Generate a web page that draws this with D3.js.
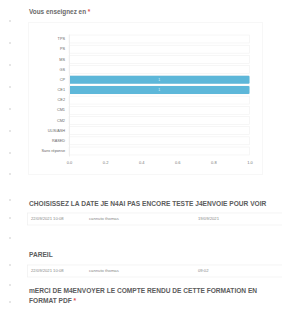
<!DOCTYPE html>
<html>
<head>
<meta charset="utf-8">
<script src="https://cdn.jsdelivr.net/npm/d3@7"></script>
<style>
	body { margin: 0; background: #fff; }
	svg { display: block; font-family: "Liberation Sans", Arial, sans-serif; }
</style>
</head>
<body>
<div id="chart"></div>
<script>
// data
var categories = ["TPS", "PS", "MS", "GS", "CP", "CE1", "CE2", "CM1", "CM2", "ULIS/ASH", "RASED", "Sans réponse"];
var counts = [0, 0, 0, 0, 1, 1, 0, 0, 0, 0, 0, 0];
var ticks = [0, 0.2, 0.4, 0.6, 0.8, 1.0];

var question_title = "Vous enseignez en";
var question_2 = "CHOISISSEZ LA DATE JE N4AI PAS ENCORE TESTE J4ENVOIE POUR VOIR";
var answers_2 = ["22/09/2021 10:08", "cannuto thomas", "19/09/2021"];
var question_3 = "PAREIL";
var answers_3 = ["22/09/2021 10:08", "cannuto thomas", "09:02"];
var question_4 = ["mERCI DE M4ENVOYER LE COMPTE RENDU DE CETTE FORMATION EN", "FORMAT PDF"];

var side_dots = [21, 43, 65, 87, 109, 131, 153, 174, 200, 218, 238, 265, 285, 302];

var width = 282, height = 318;

var svg = d3.select("#chart").append("svg")
	.attr("width", width)
	.attr("height", height);

// little markers down the left side
svg.append("g")
	.selectAll("rect")
	.data(side_dots)
	.enter()
		.append("rect")
			.attr("x", 9)
			.attr("y", function(d){ return d - 1; })
			.attr("width", 2)
			.attr("height", 2)
			.attr("fill", "#e6e6e6");

// question title
var title = svg.append("text")
	.attr("x", 29)
	.attr("y", 13.5)
	.attr("font-size", 6.4)
	.attr("font-weight", "bold")
	.attr("fill", "#6a6a6a");
title.append("tspan").text(question_title + " ");
title.append("tspan").attr("fill", "#e05050").text(" *");

// chart panel
svg.append("rect")
	.attr("x", 28.5)
	.attr("y", 22.5)
	.attr("width", 234)
	.attr("height", 152)
	.attr("fill", "#fff")
	.attr("stroke", "#f7f7f7");

var x = d3.scaleLinear()
	.domain([0, 1])
	.range([69, 249.5]);

var y = d3.scaleBand()
	.domain(categories)
	.range([34, 156])
	.paddingInner(0.22)
	.paddingOuter(0.1);

// row guides
svg.append("g")
	.selectAll("rect")
	.data(categories)
	.enter()
		.append("rect")
			.attr("x", x(0))
			.attr("y", function(d){ return y(d); })
			.attr("width", x(1) - x(0))
			.attr("height", y.bandwidth())
			.attr("fill", "#fff")
			.attr("stroke", "#f0f0f0")
			.attr("stroke-width", 0.6);

// bars
svg.append("g")
	.selectAll("rect")
	.data(counts)
	.enter()
		.append("rect")
			.attr("x", x(0))
			.attr("y", function(d, i){ return y(categories[i]); })
			.attr("width", function(d){ return x(d) - x(0); })
			.attr("height", y.bandwidth())
			.attr("rx", 1)
			.attr("fill", "#5db7d9");

// value labels on bars
svg.append("g")
	.selectAll("text")
	.data(counts.map(function(d, i){ return {v: d, c: categories[i]}; }).filter(function(d){ return d.v > 0; }))
	.enter()
		.append("text")
			.attr("x", function(d){ return (x(0) + x(d.v)) / 2; })
			.attr("y", function(d){ return y(d.c) + y.bandwidth() / 2; })
			.attr("dy", "0.35em")
			.attr("text-anchor", "middle")
			.attr("font-size", 3.6)
			.attr("fill", "#dff2fa")
			.text(function(d){ return d.v; });

// category axis
var yAxis = svg.append("g")
	.attr("transform", "translate(" + x(0) + ",0)")
	.call(d3.axisLeft(y).tickSize(0).tickPadding(4));
yAxis.select(".domain").attr("stroke", "#eeeeee");
yAxis.selectAll("text").attr("font-size", 3.8).attr("fill", "#666").attr("font-family", "Liberation Sans, Arial");

// value axis
var xAxis = svg.append("g")
	.attr("transform", "translate(0,157)")
	.call(d3.axisBottom(x).tickValues(ticks).tickFormat(d3.format(".1f")).tickSize(0).tickPadding(4));
xAxis.select(".domain").remove();
xAxis.selectAll("text").attr("font-size", 4).attr("fill", "#777").attr("font-family", "Liberation Sans, Arial");

// lower questions
function heading(lines, y0, star)
{
	lines.forEach(function(line, i)
	{
		var t = svg.append("text")
			.attr("x", 29)
			.attr("y", y0 + i * 10)
			.attr("font-size", 6.6)
			.attr("font-weight", "bold")
			.attr("fill", "#5c5c5c")
			.text(line);
		if (star && i == lines.length - 1)
		{
			t.append("tspan").attr("fill", "#e05050").text(" *");
		}
	});
}

function answerRow(values, y0)
{
	svg.append("rect")
		.attr("x", 27.5)
		.attr("y", y0)
		.attr("width", 260)
		.attr("height", 12)
		.attr("fill", "#fff")
		.attr("stroke", "#efefef")
		.attr("stroke-width", 0.7);
	var cols = [31, 89, 198];
	svg.append("g")
		.selectAll("text")
		.data(values)
		.enter()
			.append("text")
				.attr("x", function(d, i){ return cols[i]; })
				.attr("y", y0 + 6)
				.attr("dy", "0.35em")
				.attr("font-size", 4.2)
				.attr("fill", "#888")
				.text(function(d){ return d; });
}

heading([question_2], 206, false);
answerRow(answers_2, 213);
heading([question_3], 257, false);
answerRow(answers_3, 265);
heading(question_4, 293, true);
</script>
</body>
</html>
